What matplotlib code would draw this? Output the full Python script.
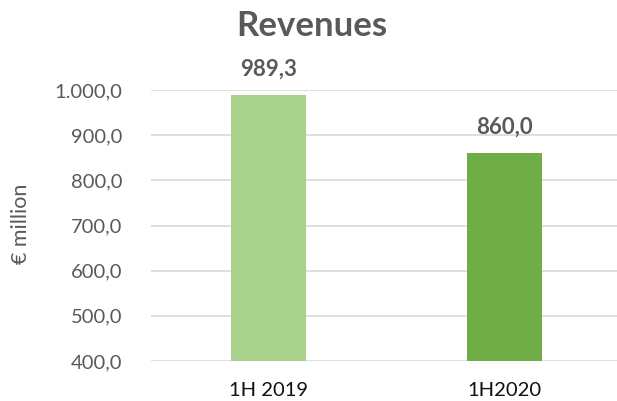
import matplotlib.pyplot as plt

# chart data
categories = ["1H 2019", "1H2020"]
revenues = [989.3, 860.0]
bar_colors = ["#A9D18E", "#70AD47"]
y_ticks = [400, 500, 600, 700, 800, 900, 1000]

text_color = "#595959"
plt.rcParams["font.family"] = ["Lato", "DejaVu Sans"]


def it_fmt(v):
    # 1.000,0 style numbers
    s = f"{v:,.1f}"
    return s.replace(",", "X").replace(".", ",").replace("X", ".")


fig = plt.figure(figsize=(6.17, 4.01), dpi=100)
ax = fig.add_axes([151 / 617, 40 / 401, 471 / 617, 271 / 401])

x = range(len(categories))
bars = ax.bar(x, revenues, width=0.32, color=bar_colors, zorder=2)

ax.set_xlim(-0.5, 1.5)
ax.set_ylim(400, 1000)
ax.set_yticks(y_ticks)
ax.set_yticklabels([it_fmt(v) for v in y_ticks])
ax.set_xticks(list(x))
ax.set_xticklabels(categories)
ax.grid(axis="y", color="#D9D9D9", linewidth=1.2, zorder=0)
ax.set_axisbelow(True)

for s in ax.spines.values():
    s.set_visible(False)
ax.tick_params(axis="y", length=0, pad=20.5, labelsize=14.5, labelcolor=text_color)
ax.tick_params(axis="x", length=0, pad=15, labelsize=14.5, labelcolor="#111111")

for b, v in zip(bars, revenues):
    ax.annotate(it_fmt(v), (b.get_x() + b.get_width() / 2, v),
                xytext=(0, 11), textcoords="offset points",
                ha="center", va="bottom", fontsize=16, fontweight="bold",
                color=text_color)

ax.set_ylabel("€ million", fontsize=15.5, color=text_color)
ax.yaxis.set_label_coords(-0.255, 0.505)
fig.text(0.505, 0.935, "Revenues", ha="center", va="center",
         fontsize=25, fontweight="bold", color=text_color)

fig.savefig("out.png", dpi=100)
